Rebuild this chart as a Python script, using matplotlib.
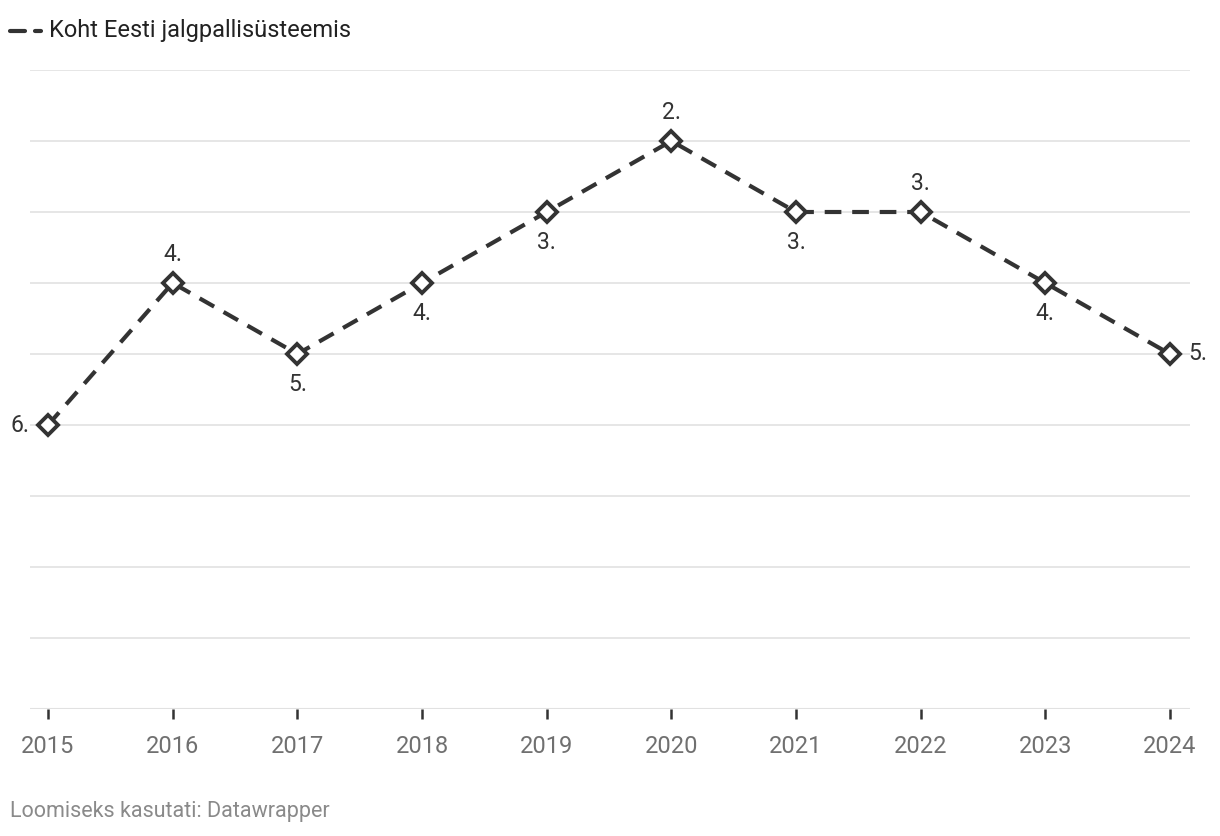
import matplotlib.pyplot as plt

plt.rcParams['font.family'] = ['Roboto', 'DejaVu Sans']

# andmed
aastad = [2015, 2016, 2017, 2018, 2019, 2020, 2021, 2022, 2023, 2024]
koht = [6, 4, 5, 4, 3, 2, 3, 3, 4, 5]
# sildi asukoht iga punkti juures
sildi_asend = ['left', 'above', 'below', 'below', 'below', 'above', 'below', 'above', 'below', 'right']

tume = '#333333'

fig = plt.figure(figsize=(12.2, 8.36), dpi=100)
ax = fig.add_axes([30 / 1220, 1 - 709 / 836, 1160 / 1220, 639 / 836])

step = (1170 - 48) / 9
ax.set_xlim(2015 - 18 / step, 2024 + 20 / step)
ax.set_ylim(10, 1)

# ruudustik
for r in range(1, 10):
    ax.axhline(r, color='#e1e1e1', lw=1.2, zorder=0)
ax.axhline(10, color='#e1e1e1', lw=1.5, zorder=0)

ax.plot(aastad, koht, color=tume, lw=3, ls=(0, (4, 2.6)),
        marker='D', ms=10, mfc='white', mec=tume, mew=2.8, zorder=3)

for x, y, pos in zip(aastad, koht, sildi_asend):
    lbl = f'{y}.'
    if pos == 'above':
        ax.annotate(lbl, (x, y), xytext=(0, 12), textcoords='offset points',
                    ha='center', va='bottom', fontsize=16.5, color=tume)
    elif pos == 'below':
        ax.annotate(lbl, (x, y), xytext=(0, -14), textcoords='offset points',
                    ha='center', va='top', fontsize=16.5, color=tume)
    elif pos == 'left':
        ax.annotate(lbl, (x, y), xytext=(-13, 0), textcoords='offset points',
                    ha='right', va='center', fontsize=16.5, color=tume)
    else:
        ax.annotate(lbl, (x, y), xytext=(13, 0), textcoords='offset points',
                    ha='left', va='center', fontsize=16.5, color=tume)

for s in ax.spines.values():
    s.set_visible(False)
ax.set_yticks([])
ax.set_xticks(aastad)
ax.set_xticklabels([str(a) for a in aastad], fontsize=17, color='#707070')
ax.tick_params(axis='x', length=7, width=1.8, color=tume, pad=12)

# legend: pikk kriips + lühike kriips
ly = 1 - 31 / 836
for x0, x1 in [(10, 25), (35, 41)]:
    fig.lines.append(plt.Line2D([x0 / 1220, x1 / 1220], [ly, ly],
                                transform=fig.transFigure, color=tume, lw=3,
                                solid_capstyle='round'))
fig.text(49 / 1220, ly, 'Koht Eesti jalgpallisüsteemis',
         fontsize=17, color='#222222', va='center', ha='left')

fig.text(10 / 1220, 1 - 812 / 836, 'Loomiseks kasutati: Datawrapper',
         fontsize=15.5, color='#8a8a8a', va='center', ha='left')

fig.savefig('out.png', dpi=100, facecolor='white')
